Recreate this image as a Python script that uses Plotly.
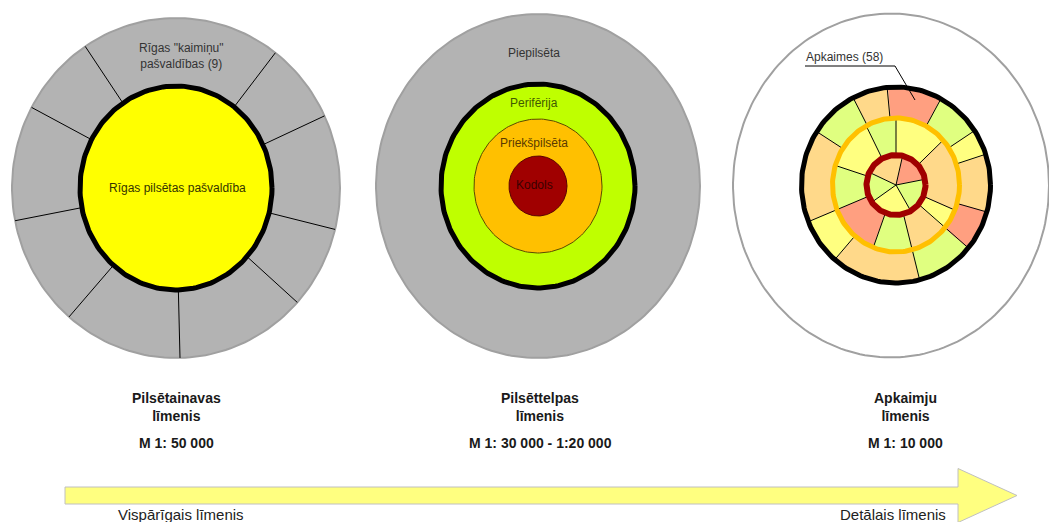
import numpy as np
import plotly.graph_objects as go

W, H = 1049, 522

# ---------------- data ----------------
# Diagram 1: Riga city + 9 neighbouring municipalities
d1_center = (176, 188)
d1_outer = (164, 170)
d1_inner = (96, 102)
d1_dividers = [123.6, 52.7, 25.1, -14.1, -42.3, -88.6, 229.3, 191.1, 151.7]
d1_labels = ['Rīgas "kaimiņu"<br>pašvaldības (9)', "Rīgas pilsētas pašvaldība"]

# Diagram 2: concentric zones
d2_center = (538, 186)
d2_rx = [162, 97, 64, 29]
d2_ry = [172, 102, 67, 30]
d2_fill = ["#B3B3B3", "#BFFF00", "#FFC000", "#A00000"]
d2_edge = ["#A0A0A0", "#000000", "#5A4A00", "#5A0000"]
d2_edge_w = [2, 5, 1, 1]
d2_names = ["Piepilsēta", "Perifērija", "Priekšpilsēta", "Kodols"]
d2_name_colors = ["#333333", "#3F5A00", "#5A3A00", "#3A0000"]

# Diagram 3: neighbourhoods (58)
d3_center = (896, 185)
d3_rx = [0, 29.5, 63.5, 94.5]
d3_ry = [0, 30, 67, 98]
d3_ring_colors = ["#A00000", "#FFC000", "#000000"]
d3_ring_widths = [6, 5, 5]
d3_outline_center = (891, 185.5)
d3_outline = (158, 172)
O, S, G, Y = "#FFD98A", "#FF9F80", "#E0FF80", "#FFFF80"
d3_inner = [(11, 77, S), (77, 155, O), (155, 215, G), (215, 300, Y), (300, 371, G)]
d3_middle = [(90, 118, G), (118, 163, Y), (163, 202, G), (202, 249, S), (249, 285, G),
             (285, 320, O), (320, 338, Y), (338, 402, O), (42, 90, Y)]
d3_outer = [(-16, 18, O), (18, 34, Y), (34, 62, G), (62, 95, S), (95, 117, O),
            (117, 147, G), (147, 202, O), (202, 230, Y), (230, 284.5, O),
            (284.5, 320, G), (320, 344, S)]
# (angle, from level, to level)
d3_lines = [(11, 0, 1), (77, 0, 1), (155, 0, 1), (215, 0, 1), (300, 0, 1),
            (90, 1, 2), (42, 1, 2), (118, 1, 2), (163, 1, 2), (249, 1, 2), (338, 1, 2),
            (95.4, 2, 3), (61.6, 2, 3), (33.7, 2, 3), (18.3, 2, 3), (117, 2, 3),
            (147, 2, 3), (202, 1, 3), (229.6, 2, 3), (284.5, 1, 3), (320, 1, 3), (-16, 2, 3)]
d3_label = "Apkaimes (58)"

# Bottom captions
cap_x = [176, 540, 905]
cap_titles = ["Pilsētainavas<br>līmenis", "Pilsēttelpas<br>līmenis", "Apkaimju<br>līmenis"]
cap_scales = ["M 1: 50 000", "M 1: 30 000 - 1:20 000", "M 1: 10 000"]
arrow_labels = ["Vispārīgais līmenis", "Detālais līmenis"]

# Arrow geometry
arr_x0, arr_x1, arr_head_x, arr_yc = 65, 1017, 958, 495.5
arr_shaft_half, arr_head_half = 8.5, 27

FONT = "Liberation Sans, Arial, sans-serif"

# ---------------- helpers ----------------
def ell(c, rx, ry, a0=0, a1=360, n=200):
    t = np.radians(np.linspace(a0, a1, n))
    return c[0] + rx * np.cos(t), c[1] - ry * np.sin(t)


def sector(c, rxi, ryi, rxo, ryo, a0, a1):
    xo, yo = ell(c, rxo, ryo, a0, a1, 60)
    if rxi == 0:
        xs = np.concatenate([[c[0]], xo, [c[0]]])
        ys = np.concatenate([[c[1]], yo, [c[1]]])
    else:
        xi, yi = ell(c, rxi, ryi, a1, a0, 60)
        xs = np.concatenate([xo, xi, xo[:1]])
        ys = np.concatenate([yo, yi, yo[:1]])
    return xs, ys


fig = go.Figure()


def poly(xs, ys, fill, line_color=None, lw=0):
    fig.add_trace(go.Scatter(x=xs, y=ys, mode="lines", fill="toself", fillcolor=fill,
                             line=dict(color=line_color or fill, width=lw),
                             hoverinfo="skip", showlegend=False))


def line(xs, ys, color="#000000", lw=1):
    fig.add_trace(go.Scatter(x=xs, y=ys, mode="lines", line=dict(color=color, width=lw),
                             hoverinfo="skip", showlegend=False))


# ---------------- diagram 1 ----------------
x, y = ell(d1_center, *d1_outer)
poly(x, y, "#B3B3B3", "#A0A0A0", 2)
for a in d1_dividers:
    t = np.radians(a)
    line([d1_center[0] + d1_inner[0] * np.cos(t), d1_center[0] + d1_outer[0] * np.cos(t)],
         [d1_center[1] - d1_inner[1] * np.sin(t), d1_center[1] - d1_outer[1] * np.sin(t)],
         "#000000", 1)
x, y = ell(d1_center, *d1_inner)
poly(x, y, "#FFFF00", "#000000", 5)

# ---------------- diagram 2 ----------------
for rx, ry, f, e, w in zip(d2_rx, d2_ry, d2_fill, d2_edge, d2_edge_w):
    x, y = ell(d2_center, rx, ry)
    poly(x, y, f, e, w)

# ---------------- diagram 3 ----------------
x, y = ell(d3_outline_center, *d3_outline)
line(x, y, "#A0A0A0", 2)
for lvl, secs in ((0, d3_inner), (1, d3_middle), (2, d3_outer)):
    for a0, a1, col in secs:
        xs, ys = sector(d3_center, d3_rx[lvl], d3_ry[lvl], d3_rx[lvl + 1], d3_ry[lvl + 1], a0, a1)
        poly(xs, ys, col, col, 0.5)
for a, l0, l1 in d3_lines:
    t = np.radians(a)
    line([d3_center[0] + d3_rx[l0] * np.cos(t), d3_center[0] + d3_rx[l1] * np.cos(t)],
         [d3_center[1] - d3_ry[l0] * np.sin(t), d3_center[1] - d3_ry[l1] * np.sin(t)],
         "#000000", 1)
for i, (col, w) in enumerate(zip(d3_ring_colors, d3_ring_widths)):
    x, y = ell(d3_center, d3_rx[i + 1], d3_ry[i + 1])
    line(x, y, col, w)
# leader line for "Apkaimes (58)"
line([805, 895, 915], [66, 66, 100], "#000000", 1)

# ---------------- arrow ----------------
ax = [arr_x0, arr_head_x, arr_head_x, arr_x1, arr_head_x, arr_head_x, arr_x0, arr_x0]
ay = [arr_yc - arr_shaft_half, arr_yc - arr_shaft_half, arr_yc - arr_head_half, arr_yc,
      arr_yc + arr_head_half, arr_yc + arr_shaft_half, arr_yc + arr_shaft_half,
      arr_yc - arr_shaft_half]
poly(ax, ay, "#FFFF80", "#C0C0C0", 1)

# ---------------- text ----------------
ann = []


def txt(x, y, s, size=12, color="#333333", bold=False, xanchor="center"):
    ann.append(dict(x=x, y=y, text=f"<b>{s}</b>" if bold else s, showarrow=False,
                    xref="x", yref="y", xanchor=xanchor, yanchor="middle",
                    font=dict(family=FONT, size=size, color=color)))


txt(181, 56, d1_labels[0], 12, "#333333")
txt(177, 188, d1_labels[1], 12, "#333300")
for name, col, yy in zip(d2_names, d2_name_colors, [53, 103, 143, 185]):
    txt(534, yy, name, 12, col)
txt(804, 57, d3_label, 12, "#333333", xanchor="left")
for cx, t, s in zip(cap_x, cap_titles, cap_scales):
    txt(cx, 407, t, 14, "#1a1a1a", True)
    txt(cx, 443, s, 14, "#1a1a1a", True)
txt(181, 514, arrow_labels[0], 15, "#222222")
txt(893, 514, arrow_labels[1], 15, "#222222")

fig.update_layout(
    width=W, height=H, margin=dict(l=0, r=0, t=0, b=0),
    paper_bgcolor="white", plot_bgcolor="white", showlegend=False,
    xaxis=dict(range=[0, W], visible=False, fixedrange=True),
    yaxis=dict(range=[H, 0], visible=False, fixedrange=True),
    annotations=ann,
)
fig.write_html("out.html", config={"displayModeBar": False},
               post_script="document.body.style.margin='0';document.body.style.overflow='hidden';")
